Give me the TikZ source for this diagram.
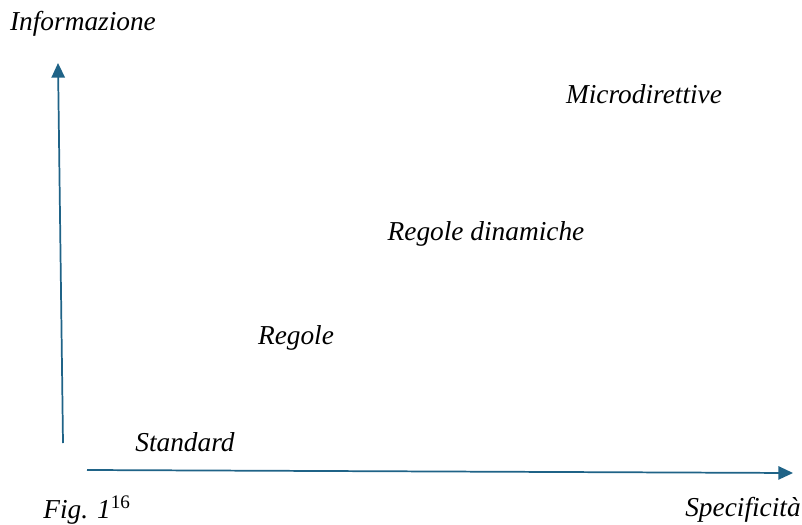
\documentclass[tikz,border=0pt]{standalone}
\usepackage{fontspec}
\setmainfont{Liberation Serif}
\usetikzlibrary{arrows.meta}
\definecolor{asse}{RGB}{31,99,135}

\begin{document}
\begin{tikzpicture}[x=0.75pt,y=-0.75pt,
  etichetta/.style={font=\fontsize{20.5}{24}\selectfont\itshape,inner sep=0pt},
  asse/.style={draw=asse,line width=1.3pt,-{Triangle[length=11pt,width=10pt]}}]
  \useasboundingbox (0,0) rectangle (802,524);
  % assi
  \coordinate (ybase) at (63,443);
  \coordinate (ytip) at (58,63);
  \coordinate (xbase) at (87,470);
  \coordinate (xtip) at (793,473);
  \draw[asse] (ybase) -- (ytip);
  \draw[asse] (xbase) -- (xtip);
  % etichette
  \node[etichetta] (info) at (83,24) {Informazione};
  \node[etichetta] (spec) at (743,510) {Specificità};
  \node[etichetta] (fig) at (87,510) {Fig. 1\textsuperscript{\upshape 16}};
  \node[etichetta] (std) at (185,442) {Standard};
  \node[etichetta] (reg) at (296,338) {Regole};
  \node[etichetta] (din) at (486,234) {Regole dinamiche};
  \node[etichetta] (micro) at (644,94) {Microdirettive};
\end{tikzpicture}
\end{document}
